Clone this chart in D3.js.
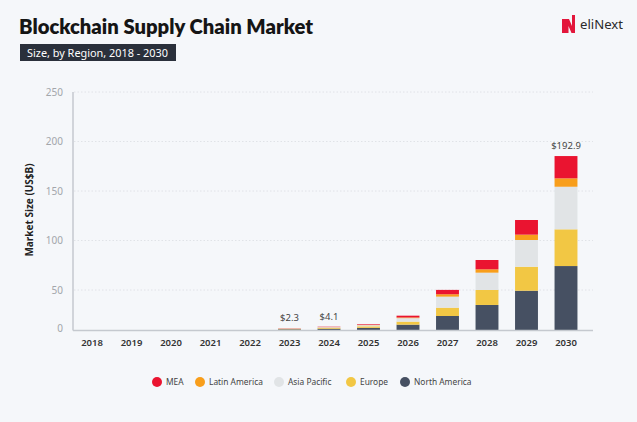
<!DOCTYPE html>
<html><head><meta charset="utf-8">
<script src="https://cdn.jsdelivr.net/npm/d3@7"></script>
<style>
html,body{margin:0;padding:0;background:#F5F7FA;}
svg{display:block;font-family:"Noto Sans",Inter,sans-serif;}
</style></head><body>
<svg id="c" width="637" height="422"></svg>
<script>
const years = ["2018","2019","2020","2021","2022","2023","2024","2025","2026","2027","2028","2029","2030"];
const seriesNames = ["North America","Europe","Asia Pacific","Latin America","MEA"];
const northAmerica = [0,0,0,0,0,0.9,1.6,2.7,6.7,17.5,31.3,49.1,74.2];
const europe       = [0,0,0,0,0,0.6,1.1,1.9,3.8,10.4,18.7,24.4,37.1];
const asiaPacific  = [0,0,0,0,0,0.45,0.8,1.4,4.3,13.8,17.5,27.0,43.0];
const latinAmerica = [0,0,0,0,0,0.1,0.15,0.3,0.9,3.0,3.4,5.4,8.5];
const mea          = [0,0,0,0,0,0.25,0.45,0.8,2.2,5.4,9.4,14.8,22.5];
const colors = ["#465062","#F2C744","#E1E4E6","#F89E1B","#EA1430"];
const yTicks = [0,50,100,150,200,250];
const valueLabels = [{year:"2023",text:"$2.3"},{year:"2024",text:"$4.1"},{year:"2030",text:"$192.9"}];
const legendOrder = ["MEA","Latin America","Asia Pacific","Europe","North America"];

const svg = d3.select("#c");
const seriesData = [northAmerica,europe,asiaPacific,latinAmerica,mea];
const table = years.map((y,i)=>{const o={year:y};seriesNames.forEach((s,k)=>o[s]=seriesData[k][i]);return o;});
const stack = d3.stack().keys(seriesNames)(table);

const x = d3.scaleBand().domain(years).range([72.25,585.75]).paddingInner(0.42).paddingOuter(0.21);
const y = d3.scaleLinear().domain([0,50,250]).range([330,290,92]);
const color = d3.scaleOrdinal().domain(seriesNames).range(colors);

// title
svg.append("text").attr("x",19).attr("y",34).attr("font-size",20.5).attr("font-weight",800)
  .attr("fill","#151515").attr("font-family","Lato, sans-serif").attr("textLength",294).attr("lengthAdjust","spacingAndGlyphs")
  .text("Blockchain Supply Chain Market");
svg.append("rect").attr("x",20).attr("y",44).attr("width",156).attr("height",17).attr("fill","#2A303B");
svg.append("text").attr("x",27).attr("y",56.5).attr("font-size",10.5).attr("fill","#fff")
  .attr("textLength",141).attr("lengthAdjust","spacingAndGlyphs")
  .text("Size, by Region, 2018 - 2030");

// logo
const lg = svg.append("g").attr("transform","translate(562,15)");
lg.append("path").attr("d","M0,4 L3.5,4 L3.5,18 L0,18 Z M3.5,4 L7,4 L10,11 L10,0 L13,0 L13,18 L9.5,18 L6.5,11 L6.5,18 L3.5,18 Z").attr("fill","#E3163B");
svg.append("text").attr("x",580).attr("y",29).attr("font-size",13).attr("fill","#2a2a2a").attr("font-weight",400)
  .attr("textLength",43).attr("lengthAdjust","spacingAndGlyphs").text("eliNext");

// grid
const gridG = svg.append("g");
yTicks.filter(d=>d>0).forEach(t=>{
  gridG.append("line").attr("x1",74).attr("x2",593).attr("y1",y(t)).attr("y2",y(t))
    .attr("stroke","#DADDE2").attr("stroke-width",0.8).attr("stroke-dasharray","1.5,2");
});

// y axis
const yAxis = d3.axisLeft(y).tickValues(yTicks).tickSize(0).tickPadding(10);
const ya = svg.append("g").attr("transform","translate(73,0)").call(yAxis);
ya.select(".domain").remove();
ya.selectAll("text").attr("font-size",10).attr("fill","#A3A6AB").attr("font-family","'Noto Sans', sans-serif");
ya.selectAll(".tick").filter(d=>d===0).select("text").attr("dy","0.1em");
svg.append("line").attr("x1",73).attr("x2",73).attr("y1",92).attr("y2",330.5).attr("stroke","#C5C9CF").attr("stroke-width",1.5);

// bars
svg.append("g").selectAll("g").data(stack).join("g").attr("fill",d=>color(d.key))
  .selectAll("rect").data(d=>d).join("rect")
  .attr("x",d=>x(d.data.year)).attr("width",x.bandwidth())
  .attr("y",d=>y(d[1])).attr("height",d=>Math.max(0,y(d[0])-y(d[1])));

// x axis
const xAxis = d3.axisBottom(x).tickSize(0).tickPadding(9);
const xa = svg.append("g").attr("transform","translate(0,330)").call(xAxis);
xa.select(".domain").remove();
xa.selectAll("text").attr("font-size",9.5).attr("font-weight",600).attr("fill","#333").attr("font-family","'Noto Sans', sans-serif");
svg.append("line").attr("x1",73).attr("x2",593).attr("y1",330.5).attr("y2",330.5).attr("stroke","#C5C9CF").attr("stroke-width",1.5);

// value labels
const totals = {};
table.forEach(r=>totals[r.year]=d3.sum(seriesNames,s=>r[s]));
svg.append("g").selectAll("text").data(valueLabels).join("text")
  .attr("x",d=>x(d.year)+x.bandwidth()/2).attr("y",d=>y(totals[d.year])-7)
  .attr("text-anchor","middle").attr("font-size",9.5).attr("fill","#444").text(d=>d.text);

// y label
svg.append("text").attr("transform","translate(33,210) rotate(-90)").attr("text-anchor","middle")
  .attr("font-size",10).attr("font-weight",700).attr("fill","#222").text("Market Size (US$B)");

// legend
const legX = [157,200,279,351,405];
const leg = svg.append("g").selectAll("g").data(legendOrder).join("g")
  .attr("transform",(d,i)=>`translate(${legX[i]},382)`);
leg.append("circle").attr("r",5).attr("fill",d=>color(d));
leg.append("text").attr("x",9).attr("y",3.2).attr("font-size",8.4).attr("fill","#444").text(d=>d);
</script>
</body></html>
